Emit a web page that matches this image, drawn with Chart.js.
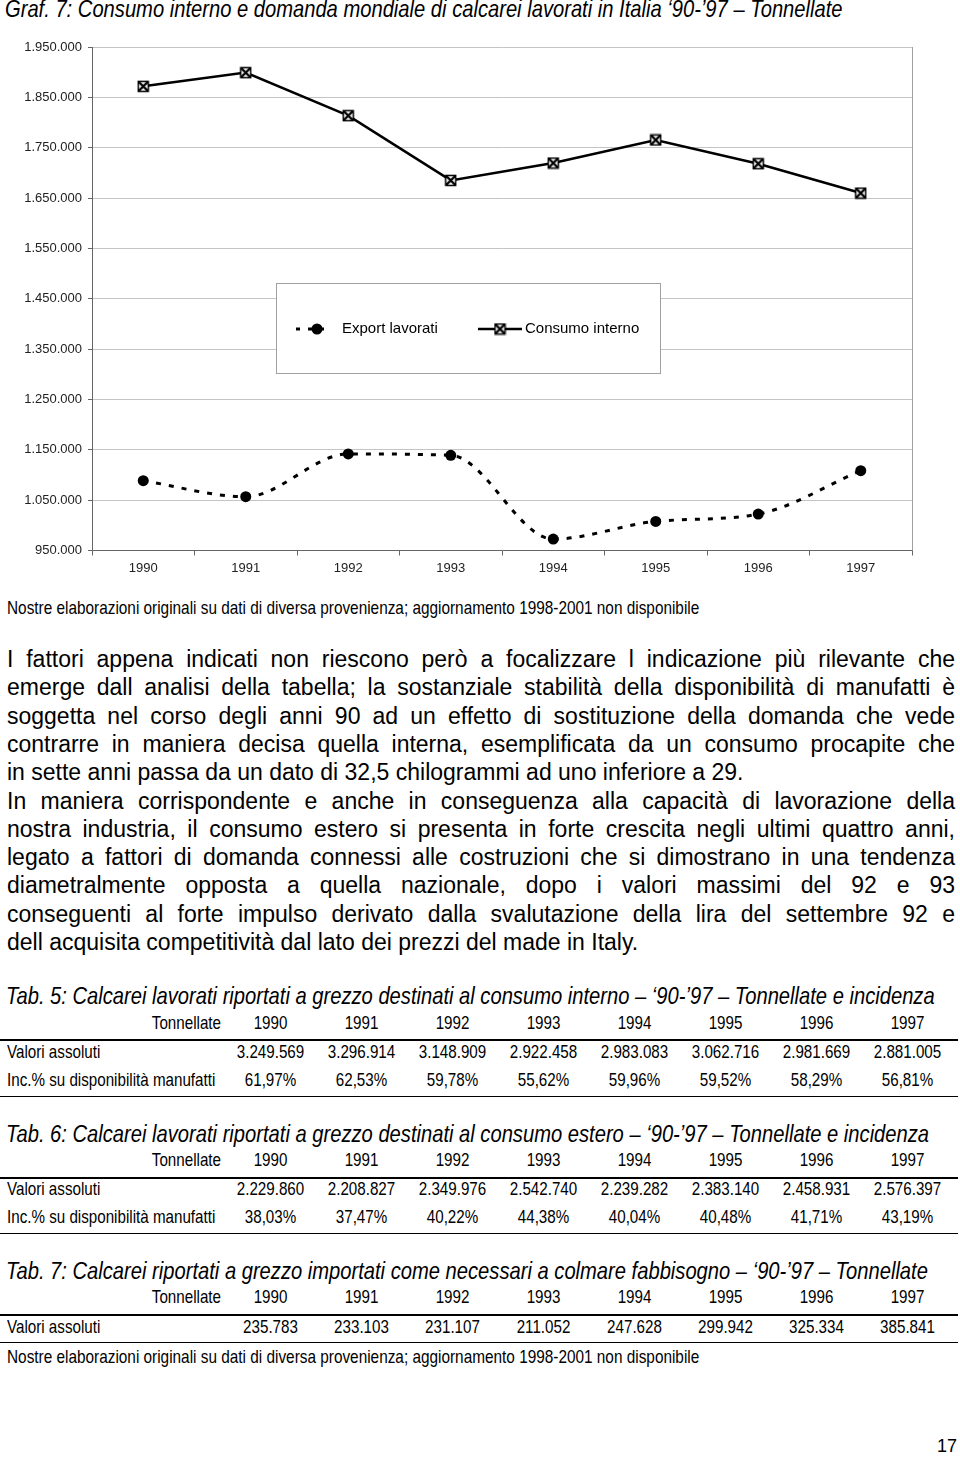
<!DOCTYPE html>
<html>
<head>
<meta charset="utf-8">
<script src="https://cdn.jsdelivr.net/npm/chart.js@4.4.0/dist/chart.umd.min.js"></script>
<style>
  body { margin: 0; background: #fff; width: 960px; height: 1461px; position: relative; overflow: hidden; font-family: "Liberation Sans", Arial, sans-serif; color: #000; }
  .abs { position: absolute; white-space: nowrap; }
  .narrow { transform: scaleX(0.83); transform-origin: left center; }
  .ttl { font-style: italic; font-size: 24px; left: 5px; transform: scaleX(0.84); transform-origin: left center; }
  #chartBox { position: absolute; left: 0; top: 0; width: 960px; height: 590px; }
  .line { position: absolute; left: 7px; font-size: 23px; line-height: 28px; height: 28px; white-space: nowrap; }
  .cell { position: absolute; font-size: 18.5px; text-align: center; width: 91px; white-space: nowrap; transform: scaleX(0.82); transform-origin: center center; }
  .rule { position: absolute; left: 0; width: 958px; background: #000; }
</style>
</head>
<body>
<div class="abs ttl" style="top:-5px;">Graf. 7: Consumo interno e domanda mondiale di calcarei lavorati in Italia ‘90-’97 – Tonnellate</div>
<div id="chartBox"><canvas id="myChart" width="960" height="590"></canvas></div>
<div class="abs narrow" style="left:7px; top:597px; font-size:18.5px;">Nostre elaborazioni originali su dati di diversa provenienza; aggiornamento 1998-2001 non disponibile</div>
<div id="text"></div>
<div id="tables"></div>
<div class="abs" style="left:937px; top:1436px; font-size:18px;">17</div>

<script>
const years = ["1990", "1991", "1992", "1993", "1994", "1995", "1996", "1997"];
const exportLavorati = [1088600, 1056800, 1141700, 1139100, 972700, 1007800, 1022400, 1108500];
const consumoInterno = [1871900, 1899100, 1813600, 1685000, 1719600, 1765300, 1718200, 1659900];
const yMin = 950000;
const yMax = 1950000;
const yStep = 100000;

const tab5Abs = ["3.249.569", "3.296.914", "3.148.909", "2.922.458", "2.983.083", "3.062.716", "2.981.669", "2.881.005"];
const tab5Inc = ["61,97%", "62,53%", "59,78%", "55,62%", "59,96%", "59,52%", "58,29%", "56,81%"];
const tab6Abs = ["2.229.860", "2.208.827", "2.349.976", "2.542.740", "2.239.282", "2.383.140", "2.458.931", "2.576.397"];
const tab6Inc = ["38,03%", "37,47%", "40,22%", "44,38%", "40,04%", "40,48%", "41,71%", "43,19%"];
const tab7Abs = ["235.783", "233.103", "231.107", "211.052", "247.628", "299.942", "325.334", "385.841"];

const fmt = (v) => String(v).replace(/\B(?=(\d{3})+(?!\d))/g, ".");

// marker for "Consumo interno": x inside a small box
const xMark = document.createElement("canvas");
xMark.width = 13;
xMark.height = 13;
(function () {
  const c = xMark.getContext("2d");
  c.fillStyle = "#fff";
  c.fillRect(1, 1, 11, 11);
  c.strokeStyle = "#000";
  c.lineWidth = 1.5;
  c.strokeRect(1.5, 1.5, 10, 10);
  c.lineWidth = 2.4;
  c.beginPath();
  c.moveTo(2, 2); c.lineTo(11, 11);
  c.moveTo(11, 2); c.lineTo(2, 11);
  c.stroke();
})();

const framePlugin = {
  id: "frame",
  beforeDatasetsDraw(chart) {
    const { ctx, chartArea } = chart;
    ctx.save();
    ctx.strokeStyle = "#a0a0a0";
    ctx.lineWidth = 1;
    ctx.beginPath();
    ctx.moveTo(chartArea.right + 0.5, chartArea.top);
    ctx.lineTo(chartArea.right + 0.5, chartArea.bottom);
    ctx.stroke();
    ctx.restore();
  },
};

const legendPlugin = {
  id: "boxLegend",
  afterDraw(chart) {
    const { ctx, chartArea } = chart;
    const x0 = chartArea.left + 184, y0 = chartArea.top + 236, w = 384, h = 90;
    const cy = y0 + 46;
    ctx.save();
    ctx.fillStyle = "#fff";
    ctx.fillRect(x0, y0, w, h);
    ctx.strokeStyle = "#a0a0a0";
    ctx.lineWidth = 1;
    ctx.strokeRect(x0 + 0.5, y0 + 0.5, w, h);

    // Export lavorati
    ctx.strokeStyle = "#000";
    ctx.lineWidth = 3;
    ctx.setLineDash([4, 8]);
    ctx.beginPath();
    ctx.moveTo(x0 + 20, cy);
    ctx.lineTo(x0 + 56, cy);
    ctx.stroke();
    ctx.setLineDash([]);
    ctx.fillStyle = "#000";
    ctx.beginPath();
    ctx.arc(x0 + 41, cy, 5.5, 0, Math.PI * 2);
    ctx.fill();

    // Consumo interno
    ctx.lineWidth = 2.5;
    ctx.beginPath();
    ctx.moveTo(x0 + 202, cy);
    ctx.lineTo(x0 + 246, cy);
    ctx.stroke();
    ctx.drawImage(xMark, x0 + 224 - 6.5, cy - 6.5);

    ctx.font = '15px "Liberation Sans", Arial, sans-serif';
    ctx.textBaseline = "middle";
    ctx.fillStyle = "#000";
    ctx.fillText(chart.data.datasets[0].label, x0 + 66, cy);
    ctx.fillText(chart.data.datasets[1].label, x0 + 249, cy);
    ctx.restore();
  },
};

new Chart(document.getElementById("myChart"), {
  type: "line",
  data: {
    labels: years,
    datasets: [
      {
        label: "Export lavorati",
        data: exportLavorati,
        borderColor: "#000",
        backgroundColor: "#000",
        borderWidth: 3,
        borderDash: [5, 8],
        cubicInterpolationMode: "monotone",
        pointRadius: 5.5,
        pointHoverRadius: 5.5,
        pointBackgroundColor: "#000",
        pointBorderWidth: 0,
      },
      {
        label: "Consumo interno",
        data: consumoInterno,
        borderColor: "#000",
        backgroundColor: "#000",
        borderWidth: 2.5,
        tension: 0,
        pointStyle: xMark,
      },
    ],
  },
  options: {
    responsive: false,
    animation: false,
    events: [],
    layout: { padding: { top: 47, right: 48, left: 0, bottom: 0 } },
    plugins: { legend: { display: false }, tooltip: { enabled: false } },
    scales: {
      x: {
        offset: true,
        afterFit: (s) => { s.height = 39.5; },
        grid: { offset: true, drawOnChartArea: false, tickLength: 5, color: "#666" },
        border: { color: "#666", width: 1 },
        ticks: { color: "#222", padding: 5, font: { family: '"Liberation Sans", Arial', size: 13 } },
      },
      y: {
        min: yMin,
        max: yMax,
        afterFit: (s) => { s.width = 92; },
        grid: { color: "#c4c4c4", tickColor: "#666", tickLength: 4 },
        border: { color: "#666", width: 1 },
        ticks: {
          stepSize: yStep,
          color: "#222",
          padding: 6,
          font: { family: '"Liberation Sans", Arial', size: 13 },
          callback: (v) => fmt(v),
        },
      },
    },
  },
  plugins: [framePlugin, legendPlugin],
});

// body text, one div per printed line, justified by word spacing
const textLines = [
  ["I fattori appena indicati non riescono però a focalizzare l indicazione più rilevante che", 0],
  ["emerge dall analisi della tabella; la sostanziale stabilità della disponibilità di manufatti è", 0],
  ["soggetta nel corso degli anni 90 ad un effetto di sostituzione della domanda che vede", 0],
  ["contrarre in maniera decisa quella interna, esemplificata da un consumo procapite che", 0],
  ["in sette anni passa da un dato di 32,5 chilogrammi ad uno inferiore a 29.", 1],
  ["In maniera corrispondente e anche in conseguenza alla capacità di lavorazione della", 0],
  ["nostra industria, il consumo estero si presenta in forte crescita negli ultimi quattro anni,", 0],
  ["legato a fattori di domanda connessi alle costruzioni che si dimostrano in una tendenza", 0],
  ["diametralmente opposta a quella nazionale, dopo i valori massimi del 92 e 93", 0],
  ["conseguenti al forte impulso derivato dalla svalutazione della lira del settembre 92 e", 0],
  ["dell acquisita competitività dal lato dei prezzi del made in Italy.", 1],
];
const textBox = document.getElementById("text");
const lineWidth = 948;
textLines.forEach(([t, last], i) => {
  const d = document.createElement("div");
  d.className = "line";
  d.style.top = (645 + i * 28.3) + "px";
  d.textContent = t;
  textBox.appendChild(d);
  if (!last) {
    const w = d.getBoundingClientRect().width;
    const n = (t.match(/ /g) || []).length;
    d.style.wordSpacing = ((lineWidth - w) / n) + "px";
  }
});

// tables
const tablesBox = document.getElementById("tables");
function addText(txt, left, top, cls, extra) {
  const d = document.createElement("div");
  d.className = cls;
  d.style.left = left + "px";
  d.style.top = top + "px";
  if (extra) Object.assign(d.style, extra);
  d.textContent = txt;
  tablesBox.appendChild(d);
  return d;
}
function addRow(label, vals, cy) {
  addText(label, 7, cy - 12, "abs narrow", { fontSize: "18.5px", transform: "scaleX(0.82)" });
  vals.forEach((v, i) => addText(v, 225 + i * 91, cy - 12, "cell"));
}
function addHeader(cy) {
  addText("Tonnellate", 0, cy - 12, "abs", { fontSize: "18.5px", width: "221px", textAlign: "right", transform: "scaleX(0.82)", transformOrigin: "right center" });
  years.forEach((y, i) => addText(y, 225 + i * 91, cy - 12, "cell"));
}
function addRule(top, h) {
  const d = document.createElement("div");
  d.className = "rule";
  d.style.top = top + "px";
  d.style.height = h + "px";
  tablesBox.appendChild(d);
}

addText("Tab. 5: Calcarei lavorati riportati a grezzo destinati al consumo interno – ‘90-’97 – Tonnellate e incidenza", 6, 982, "abs ttl");
addHeader(1024);
addRule(1039, 2);
addRow("Valori assoluti", tab5Abs, 1053);
addRow("Inc.% su disponibilità manufatti", tab5Inc, 1081);
addRule(1096, 1);

addText("Tab. 6: Calcarei lavorati riportati a grezzo destinati al consumo estero – ‘90-’97 – Tonnellate e incidenza", 6, 1120, "abs ttl");
addHeader(1161);
addRule(1177, 2);
addRow("Valori assoluti", tab6Abs, 1190);
addRow("Inc.% su disponibilità manufatti", tab6Inc, 1218);
addRule(1233, 1);

addText("Tab. 7: Calcarei riportati a grezzo importati come necessari a colmare fabbisogno – ‘90-’97 – Tonnellate", 6, 1257, "abs ttl");
addHeader(1298);
addRule(1314, 2);
addRow("Valori assoluti", tab7Abs, 1328);
addRule(1342, 1);
addText("Nostre elaborazioni originali su dati di diversa provenienza; aggiornamento 1998-2001 non disponibile", 7, 1346, "abs narrow", { fontSize: "18.5px" });
</script>
</body>
</html>
